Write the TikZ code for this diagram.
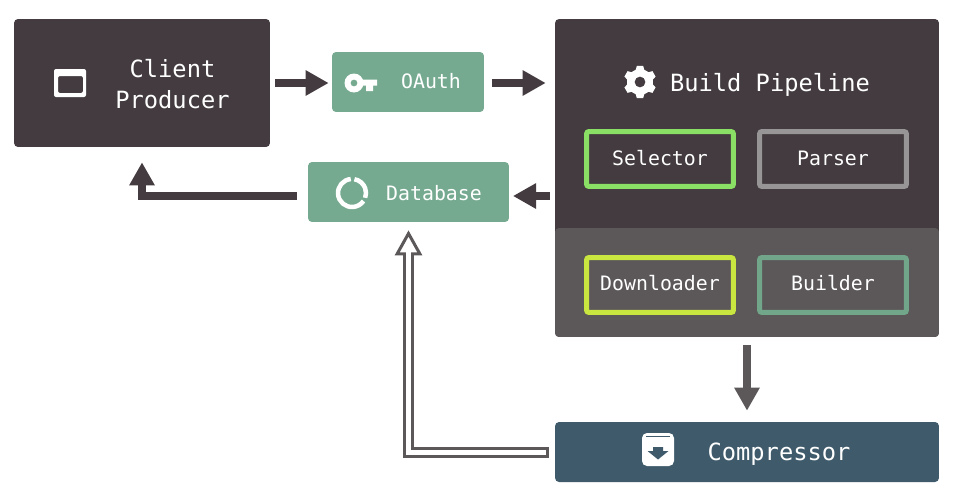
\documentclass[tikz,border=0pt]{standalone}
\usepackage{fontspec}
\setmonofont{DejaVu Sans Mono}
\usetikzlibrary{arrows.meta}
\definecolor{panelgrey}{HTML}{433B3F}
\definecolor{lowgrey}{HTML}{5C5859}
\definecolor{sage}{HTML}{75AA90}
\definecolor{slateblue}{HTML}{3F5B6B}
\definecolor{limegreen}{HTML}{8AE065}
\definecolor{midgrey}{HTML}{979596}
\definecolor{lemon}{HTML}{C9E53F}
\definecolor{darksage}{HTML}{72A68A}
\tikzset{
    box/.style={fill=#1,rounded corners=.08cm,inner sep=0pt},
    stage/.style={draw=#1,line width=.1cm,rounded corners=.05cm,minimum width=2.94cm,minimum height=1.1cm,inner sep=0pt,text height=.29cm,text depth=.07cm,text=white,smalltext},
    bigtext/.style={text=white,align=center,font=\ttfamily\fontsize{13.5}{17.6}\selectfont},
    smalltext/.style={text=white,font=\ttfamily\fontsize{11.3}{14}\selectfont},
    flow/.style={draw=#1,line width=.16cm,-{Triangle[length=.46cm,width=.48cm]}},
    hollowline/.style={draw=lowgrey,line width=.22cm,-{Triangle[open,fill=white,line width=.06cm,length=.5cm,width=.54cm]}},
    hollowcore/.style={draw=white,line width=.1cm}
}
\begin{document}
\begin{tikzpicture}[x=.02cm,y=-.02cm]
    \useasboundingbox (0,0) rectangle (960,497);
    \node (client) at (142, 83)[box=panelgrey,minimum width=5.12cm,minimum height=2.56cm]{};
    \node (oauth) at (408, 82)[box=sage,minimum width=3.04cm,minimum height=1.2cm]{};
    \node (database) at (408.5, 192)[box=sage,minimum width=4.02cm,minimum height=1.2cm]{};
    \node (pipeline) at (747, 178)[box=panelgrey,minimum width=7.68cm,minimum height=6.36cm]{};
    \node (lowpanel) at (747, 282.5)[box=lowgrey,minimum width=7.68cm,minimum height=2.18cm]{};
    \node (compressor) at (747, 452)[box=slateblue,minimum width=7.68cm,minimum height=1.2cm]{};
    \node (clienttext) at (172.5, 84)[bigtext]{Client\\Producer};
    \node (oauthtext) at (431, 81)[smalltext]{OAuth};
    \node (databasetext) at (434, 193)[smalltext]{Database};
    \node (pipelinetext) at (770, 85)[bigtext]{Build Pipeline};
    \node (compressortext) at (779, 454)[bigtext]{Compressor};
    \node (selector) at (660, 159)[stage=limegreen,text height=.33cm]{Selector};
    \node (parser) at (833, 159)[stage=midgrey,text height=.33cm]{Parser};
    \node (downloader) at (660, 285)[stage=lemon]{Downloader};
    \node (builder) at (833, 285)[stage=darksage]{Builder};
    \coordinate (clientport) at (270, 83);
    \coordinate (oauthport) at (484, 83);
    \coordinate (dbport) at (509, 196);
    \draw[flow=panelgrey,shorten <=.1cm,shorten >=.06cm] (clientport) -- (clientport -| oauth.west);
    \draw[flow=panelgrey,shorten <=.16cm,shorten >=.18cm] (oauthport) -- (oauthport -| pipeline.west);
    \draw[flow=panelgrey,shorten <=.1cm,shorten >=.08cm] (dbport -| pipeline.west) -- (dbport);
    \draw[flow=panelgrey,shorten <=.22cm,shorten >=.3cm] (dbport -| database.west) -| (client.south);
    \draw[flow=lowgrey,shorten <=.16cm,shorten >=.22cm] (lowpanel.south) -- (compressor.north);
    \draw[hollowline,shorten <=.12cm,shorten >=.16cm] (compressor.west) -| (database.south);
    \draw[hollowcore,shorten <=.18cm,shorten >=.5cm] (compressor.west) -| (database.south);
    \fill[white,even odd rule,rounded corners=.04cm] (54, 69) rectangle (86, 97) (58, 76) rectangle (83, 93);
    \begin{scope}[shift={(640, 82)}]
        \fill[white,even odd rule] (90-11:16.5) \foreach \a in {90,150,210,270,330,390}{ -- (\a-11:16.5) -- (\a+11:16.5) -- (\a+19:13) -- (\a+41:13) } -- cycle (0, 0) circle[radius=5.5];
    \end{scope}
    \fill[white,even odd rule] (354, 83) circle[radius=9.5] (354, 83) circle[radius=3.5];
    \fill[white] (360, 79.5) -- (377, 79.5) -- (377, 85.5) -- (373, 85.5) -- (373, 91) -- (366, 91) -- (366, 85.5) -- (360, 85.5) -- cycle;
    \draw[white,line width=.09cm] (352, 193) ++(-95:14) arc[start angle=-95,delta angle=-230,radius=14];
    \draw[white,line width=.09cm] (352, 193) ++(-80:14) arc[start angle=-80,delta angle=100,radius=14];
    \fill[white,rounded corners=.1cm] (642, 433) rectangle (674, 466);
    \draw[slateblue,line width=.02cm] (646, 436.5) -- (670, 436.5);
    \fill[slateblue] (653, 447) -- (663, 447) -- (663, 451) -- (668.5, 451) -- (658, 459.5) -- (647.5, 451) -- (653, 451) -- cycle;
\end{tikzpicture}
\end{document}
